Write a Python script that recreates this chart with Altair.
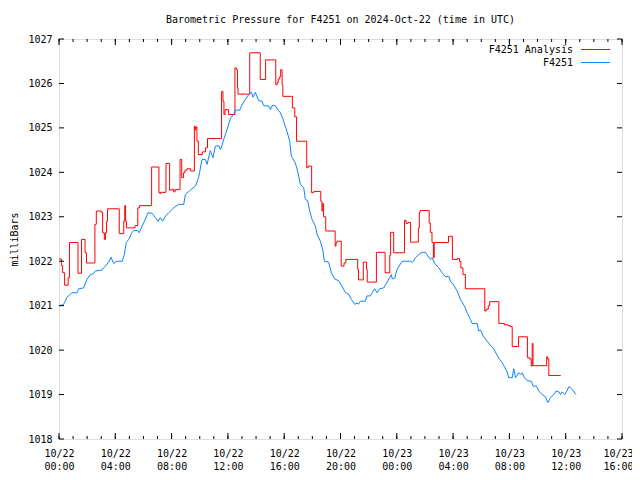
import altair as alt
import pandas as pd

# ---------------- data (hours after 2024-10-22 00:00 UTC, millibars) -------------
RED_T = [0.0, 0.17, 0.26, 0.4, 0.65, 0.75, 1.35, 1.6, 1.85, 1.95, 2.55, 2.65, 3.0, 3.1,
         3.22, 3.3, 3.38, 3.45, 4.28, 4.6, 4.67, 4.73, 4.8, 5.4, 5.6, 5.72, 6.58, 7.1,
         7.18, 7.22, 7.6, 7.86, 8.05, 8.15, 8.25, 8.6, 8.72, 8.85, 8.95, 9.1, 9.35, 9.62,
         9.68, 9.72, 9.8, 9.9, 10.18, 10.4, 10.55, 11.55, 11.65, 11.72, 11.8, 12.05, 12.5,
         12.6, 12.68, 12.72, 13.55, 14.3, 14.68, 15.4, 15.5, 15.58, 15.68, 15.75, 15.85,
         15.9, 16.58, 16.75, 16.88, 17.6, 17.7, 17.95, 18.1, 18.6, 18.68, 18.74, 18.8,
         18.95, 19.62, 19.68, 19.75, 20.05, 20.25, 20.38, 21.22, 21.28, 21.62, 21.85, 21.9,
         22.55, 23.17, 23.5, 23.56, 23.78, 24.55, 24.66, 24.78, 24.98, 25.53, 25.6, 25.66,
         26.3, 26.38, 26.5, 26.6, 26.66, 27.67, 27.95, 28.3, 28.45, 28.55, 28.7, 28.87,
         30.25, 30.35, 30.5, 30.6, 31.25, 31.65, 31.9, 32.05, 32.2, 32.65, 33.28, 33.45,
         33.55, 33.62, 33.68, 34.65, 34.72, 34.8, 35.65]
RED_V = [1022.05, 1021.9, 1021.74, 1021.46, 1021.63, 1022.42, 1021.73, 1022.49, 1022.19,
         1021.96, 1022.83, 1023.13, 1023.1, 1022.64, 1022.49, 1022.64, 1022.9, 1023.18,
         1022.62, 1022.9, 1023.25, 1022.9, 1022.75, 1022.8, 1023.2, 1023.25, 1024.12,
         1023.54, 1023.52, 1023.55, 1024.2, 1023.6, 1023.62, 1023.56, 1023.61, 1024.29,
         1023.88, 1023.99, 1024.05, 1024.08, 1024.03, 1025.04, 1024.95, 1025.02, 1024.7,
         1024.4, 1024.46, 1024.55, 1024.76, 1025.82, 1025.6, 1025.3, 1025.41, 1025.3,
         1026.35, 1026.31, 1025.9, 1025.76, 1026.69, 1026.09, 1026.53, 1025.97, 1026.02,
         1026.1, 1026.15, 1026.31, 1025.97, 1025.71, 1025.45, 1025.25, 1024.7, 1024.1,
         1024.14, 1023.54, 1023.57, 1023.35, 1023.13, 1023.3, 1023.0, 1022.68, 1022.34,
         1022.41, 1022.45, 1021.89, 1021.96, 1022.04, 1021.82, 1021.58, 1021.98, 1021.82,
         1021.53, 1022.2, 1021.74, 1022.14, 1022.65, 1022.19, 1022.92, 1022.85, 1022.87,
         1022.43, 1022.75, 1023.1, 1023.14, 1022.86, 1022.65, 1022.42, 1022.08, 1022.42,
         1022.56, 1022.04, 1022.06, 1022.0, 1021.85, 1021.7, 1021.38, 1020.88, 1020.92,
         1021.0, 1021.09, 1020.6, 1020.57, 1020.55, 1020.53, 1020.08, 1020.3, 1019.83,
         1019.8, 1019.64, 1020.15, 1019.65, 1019.85, 1019.8, 1019.43, 1019.43]

BLUE_T = [0.0, 0.3, 0.45, 0.57, 0.92, 1.28, 1.4, 1.75, 1.99, 2.22, 2.46, 2.58, 3.05, 3.29,
          3.53, 3.69, 3.88, 4.12, 4.5, 4.64, 4.78, 4.95, 5.19, 5.31, 5.59, 5.7, 5.9, 6.13,
          6.32, 6.61, 6.84, 7.04, 7.2, 7.37, 7.56, 7.79, 8.15, 8.5, 8.86, 8.98, 9.33, 9.69,
          9.92, 10.16, 10.4, 10.52, 10.75, 10.94, 11.11, 11.35, 11.47, 11.58, 11.7, 11.94,
          12.18, 12.41, 12.53, 12.84, 13.0, 13.24, 13.48, 13.67, 13.79, 13.95, 14.19, 14.43,
          14.54, 14.9, 15.02, 15.14, 15.37, 15.54, 15.73, 15.92, 16.2, 16.39, 16.51, 16.79,
          16.96, 17.15, 17.39, 17.5, 17.67, 17.81, 17.98, 18.22, 18.34, 18.57, 18.76, 18.85,
          19.16, 19.35, 19.59, 19.87, 20.11, 20.35, 20.58, 20.77, 21.01, 21.18, 21.26, 21.41,
          21.77, 21.89, 22.13, 22.25, 22.43, 22.6, 22.79, 23.07, 23.26, 23.43, 23.62, 23.67,
          23.86, 24.02, 24.38, 24.97, 25.09, 25.2, 25.32, 25.56, 25.8, 26.03, 26.15, 26.39,
          26.51, 26.7, 26.98, 27.22, 27.46, 27.7, 27.81, 28.05, 28.29, 28.52, 28.81, 29.0,
          29.23, 29.35, 29.71, 29.82, 29.94, 30.13, 30.42, 30.65, 30.89, 31.08, 31.31, 31.49,
          31.67, 31.84, 31.95, 32.2, 32.31, 32.43, 32.67, 32.79, 32.9, 33.07, 33.26, 33.55,
          33.69, 33.92, 34.09, 34.33, 34.57, 34.73, 34.92, 35.15, 35.32, 35.52, 35.63, 35.75,
          35.94, 36.24, 36.48, 36.73]
BLUE_V = [1021.0, 1021.02, 1021.1, 1021.19, 1021.29, 1021.29, 1021.38, 1021.4, 1021.59,
          1021.7, 1021.72, 1021.78, 1021.8, 1021.89, 1021.98, 1022.09, 1021.95, 1022.0,
          1022.0, 1022.15, 1022.42, 1022.49, 1022.65, 1022.69, 1022.69, 1022.64, 1022.79,
          1022.94, 1023.09, 1023.08, 1022.98, 1022.9, 1022.98, 1022.9, 1023.01, 1023.09,
          1023.2, 1023.28, 1023.28, 1023.5, 1023.6, 1023.69, 1023.88, 1024.29, 1024.29,
          1024.18, 1024.49, 1024.33, 1024.59, 1024.6, 1024.51, 1024.6, 1024.74, 1024.96,
          1025.22, 1025.3, 1025.4, 1025.4, 1025.52, 1025.64, 1025.75, 1025.8, 1025.69,
          1025.8, 1025.61, 1025.6, 1025.5, 1025.49, 1025.41, 1025.5, 1025.5, 1025.41,
          1025.34, 1025.19, 1024.92, 1024.7, 1024.36, 1024.21, 1024.02, 1023.73, 1023.65,
          1023.39, 1023.36, 1023.13, 1022.94, 1022.79, 1022.6, 1022.45, 1022.23, 1022.0,
          1021.98, 1021.74, 1021.6, 1021.56, 1021.44, 1021.29, 1021.26, 1021.14, 1021.03,
          1021.06, 1021.03, 1021.1, 1021.1, 1021.22, 1021.22, 1021.29, 1021.38, 1021.29,
          1021.38, 1021.4, 1021.5, 1021.6, 1021.7, 1021.6, 1021.62, 1021.82, 1022.0, 1022.0,
          1021.97, 1022.0, 1022.08, 1022.15, 1022.2, 1022.2, 1022.14, 1022.04, 1022.08,
          1021.95, 1021.85, 1021.74, 1021.65, 1021.66, 1021.55, 1021.46, 1021.33, 1021.14,
          1020.99, 1020.84, 1020.69, 1020.6, 1020.6, 1020.43, 1020.46, 1020.32, 1020.2,
          1020.11, 1020.03, 1019.91, 1019.79, 1019.72, 1019.61, 1019.51, 1019.38, 1019.38,
          1019.58, 1019.38, 1019.49, 1019.45, 1019.49, 1019.38, 1019.31, 1019.3, 1019.19,
          1019.19, 1019.08, 1019.0, 1018.95, 1018.82, 1018.93, 1019.0, 1019.08, 1019.06,
          1019.0, 1019.06, 1019.0, 1019.18, 1019.11, 1019.0]

X_MAJOR = [0, 4, 8, 12, 16, 20, 24, 28, 32, 36, 40]
X_MINOR = list(range(0, 41))
X_TICK_DAY = ["10/22", "10/22", "10/22", "10/22", "10/22", "10/22",
              "10/23", "10/23", "10/23", "10/23", "10/23"]
X_TICK_TIME = ["00:00", "04:00", "08:00", "12:00", "16:00", "20:00",
               "00:00", "04:00", "08:00", "12:00", "16:00"]
Y_TICKS = [1018, 1019, 1020, 1021, 1022, 1023, 1024, 1025, 1026, 1027]

SERIES_NAMES = ["F4251 Analysis", "F4251"]
SERIES_COLORS = ["#ff0000", "#0a84ff"]

TITLE = "Barometric Pressure for F4251 on 2024-Oct-22 (time in UTC)"
Y_TITLE = "milliBars"

# ---------------- chart ----------------
W, H = 563, 400
FONT = "DejaVu Sans Mono"

red_df = pd.DataFrame({"t": RED_T, "v": RED_V})
blue_df = pd.DataFrame({"t": BLUE_T, "v": BLUE_V})
major_df = pd.DataFrame({"t": X_MAJOR})
minor_df = pd.DataFrame({"t": X_MINOR})
yt_df = pd.DataFrame({"v": Y_TICKS})

xscale = alt.Scale(domain=[0, 40], nice=False, zero=False)
yscale = alt.Scale(domain=[1018, 1027], nice=False, zero=False)

day_js = "[" + ",".join("'%s'" % s for s in X_TICK_DAY) + "]"
time_js = "[" + ",".join("'%s'" % s for s in X_TICK_TIME) + "]"
label_expr = f"[{day_js}[round(datum.value/4)], {time_js}[round(datum.value/4)]]"
last_tick = "datum.value == %d" % X_MAJOR[-1]

x_axis = alt.Axis(values=X_MAJOR, labelExpr=label_expr, ticks=False, domain=False,
                  grid=False, title=None, labelFont=FONT, labelFontSize=10,
                  labelColor="black", labelPadding=9, labelLineHeight=13,
                  labelFlush=False, labelOverlap=False,
                  labelAlign={"condition": {"test": last_tick, "value": "right"},
                              "value": "center"},
                  labelOffset={"condition": {"test": last_tick, "value": 11},
                               "value": 0})
y_axis = alt.Axis(values=Y_TICKS, format="d", ticks=False, domain=False, grid=False,
                  title=Y_TITLE, titleFont=FONT, titleFontSize=10, titleFontWeight="normal",
                  titleColor="black", titlePadding=8, labelFont=FONT, labelFontSize=10,
                  labelColor="black", labelPadding=7, labelFlush=False)

red_line = alt.Chart(red_df).mark_line(color=SERIES_COLORS[0], strokeWidth=1,
                                       interpolate="step-after").encode(
    x=alt.X("t:Q", scale=xscale, axis=x_axis),
    y=alt.Y("v:Q", scale=yscale, axis=y_axis),
)
blue_line = alt.Chart(blue_df).mark_line(color=SERIES_COLORS[1], strokeWidth=1).encode(
    x=alt.X("t:Q", scale=xscale),
    y=alt.Y("v:Q", scale=yscale),
)

def xticks(df, y0, y1):
    return alt.Chart(df).mark_rule(color="black", strokeWidth=1).encode(
        x=alt.X("t:Q", scale=xscale), y=alt.value(y0), y2=alt.value(y1))

def yticks(x0, x1):
    return alt.Chart(yt_df).mark_rule(color="black", strokeWidth=1).encode(
        y=alt.Y("v:Q", scale=yscale), x=alt.value(x0), x2=alt.value(x1))

tick_layers = [
    xticks(minor_df, H, H - 3), xticks(major_df, H, H - 6),
    xticks(minor_df, 0, 3), xticks(major_df, 0, 6),
    yticks(0, 5), yticks(W, W - 5),
]

# legend (top-right inside the plot)
leg = []
for i, (name, col) in enumerate(zip(SERIES_NAMES, SERIES_COLORS)):
    row = pd.DataFrame({"label": [name]})
    yy = 10.5 + 13 * i
    leg.append(alt.Chart(row).mark_text(align="right", baseline="middle", font=FONT,
                                        fontSize=10, color="black").encode(
        text="label:N", x=alt.value(514), y=alt.value(yy)))
    leg.append(alt.Chart(row).mark_rule(color=col, strokeWidth=1).encode(
        x=alt.value(522), x2=alt.value(551), y=alt.value(yy)))

chart = alt.layer(red_line, blue_line, *tick_layers, *leg).properties(
    width=W, height=H,
    title=alt.TitleParams(TITLE, font=FONT, fontSize=10, fontWeight="normal",
                          color="black", anchor="middle", offset=9),
    padding={"left": 51, "top": 31, "right": 10, "bottom": 33},
    autosize=alt.AutoSizeParams(type="none"),
).configure_view(stroke="black", strokeWidth=1).configure(background="white")

chart.save("out.html", embed_options={"renderer": "svg", "actions": False})
